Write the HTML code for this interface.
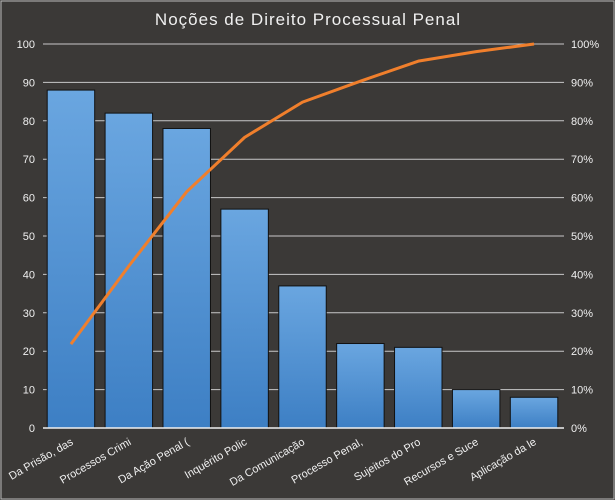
<!DOCTYPE html>
<html><head><meta charset="utf-8"><style>
html,body{margin:0;padding:0;background:#3b3937;}
svg{display:block;font-family:"Liberation Sans",sans-serif;}
</style></head><body>
<svg id="chart" width="615" height="500">
<defs><linearGradient id="bg" x1="0" y1="0" x2="0" y2="1"><stop offset="0" stop-color="#6aa6e0"/><stop offset="1" stop-color="#3d7fc4"/></linearGradient></defs>
<rect x="1" y="1" width="613" height="498" fill="#3b3937" stroke="#bbbbbb"/>
<text x="308" y="25" text-anchor="middle" fill="#f0f0f0" font-size="17" letter-spacing="1">Noções de Direito Processual Penal</text>
<g id="grid"></g><g id="bars"></g><g id="line"></g><g id="axes"></g>
</svg>
<script>
const categories=["Da Prisão, das","Processos Crimi","Da Ação Penal (","Inquérito Polic","Da Comunicação","Processo Penal,","Sujeitos do Pro","Recursos e Suce","Aplicação da le"];
const values=[88,82,78,57,37,22,21,10,8];
const leftTicks=[0,10,20,30,40,50,60,70,80,90,100];
const rightTicks=["0%","10%","20%","30%","40%","50%","60%","70%","80%","90%","100%"];
const X0=43,X1=564,Y0=428,Y1=44;
const NS="http://www.w3.org/2000/svg";
const band=(X1-X0)/categories.length;
const y=v=>Y0-(v/100)*(Y0-Y1);
const xc=i=>X0+band*(i+0.5);
function mk(t,a,p){const e=document.createElementNS(NS,t);for(const k in a)e.setAttribute(k,a[k]);p.appendChild(e);return e;}
const g=document.getElementById('grid'),b=document.getElementById('bars'),l=document.getElementById('line'),ax=document.getElementById('axes');
leftTicks.forEach((t,i)=>{
 if(t>0){const gl=mk('line',{x1:X0,x2:X1,y1:y(t),y2:y(t),stroke:'#c8c8c8','stroke-width':1},g);
 }
 const tl=mk('text',{x:X0-8,y:y(t)+4,'text-anchor':'end',fill:'#f0f0f0','font-size':11},ax);tl.textContent=t;
 
 const tr=mk('text',{x:X1+7,y:y(t)+4,'text-anchor':'start',fill:'#f0f0f0','font-size':11},ax);tr.textContent=rightTicks[i];
 
});
const bw=band*0.82;
values.forEach((v,i)=>{
 const r=mk('rect',{x:xc(i)-bw/2-1,y:y(v),width:bw,height:Y0-y(v),fill:'url(#bg)',stroke:'#111','stroke-width':1},b);
 
 const tx=mk('text',{transform:`translate(${xc(i)+2},${Y0+16}) rotate(-30)`,'text-anchor':'end',fill:'#f0f0f0','font-size':11},ax);
 tx.textContent=categories[i];
 
});
const total=values.reduce((a,c)=>a+c,0);let cum=0;const pts=values.map((v,i)=>{cum+=v;return (xc(i)-1)+','+y(cum/total*100);});
const pl=mk('polyline',{points:pts.join(' '),fill:'none',stroke:'#f07f2c','stroke-width':3,'stroke-linejoin':'round'},l);

const xa=mk('line',{x1:X0,x2:X1,y1:Y0,y2:Y0,stroke:'#f0f0f0','stroke-width':1.5},ax);

</script>
</body></html>
